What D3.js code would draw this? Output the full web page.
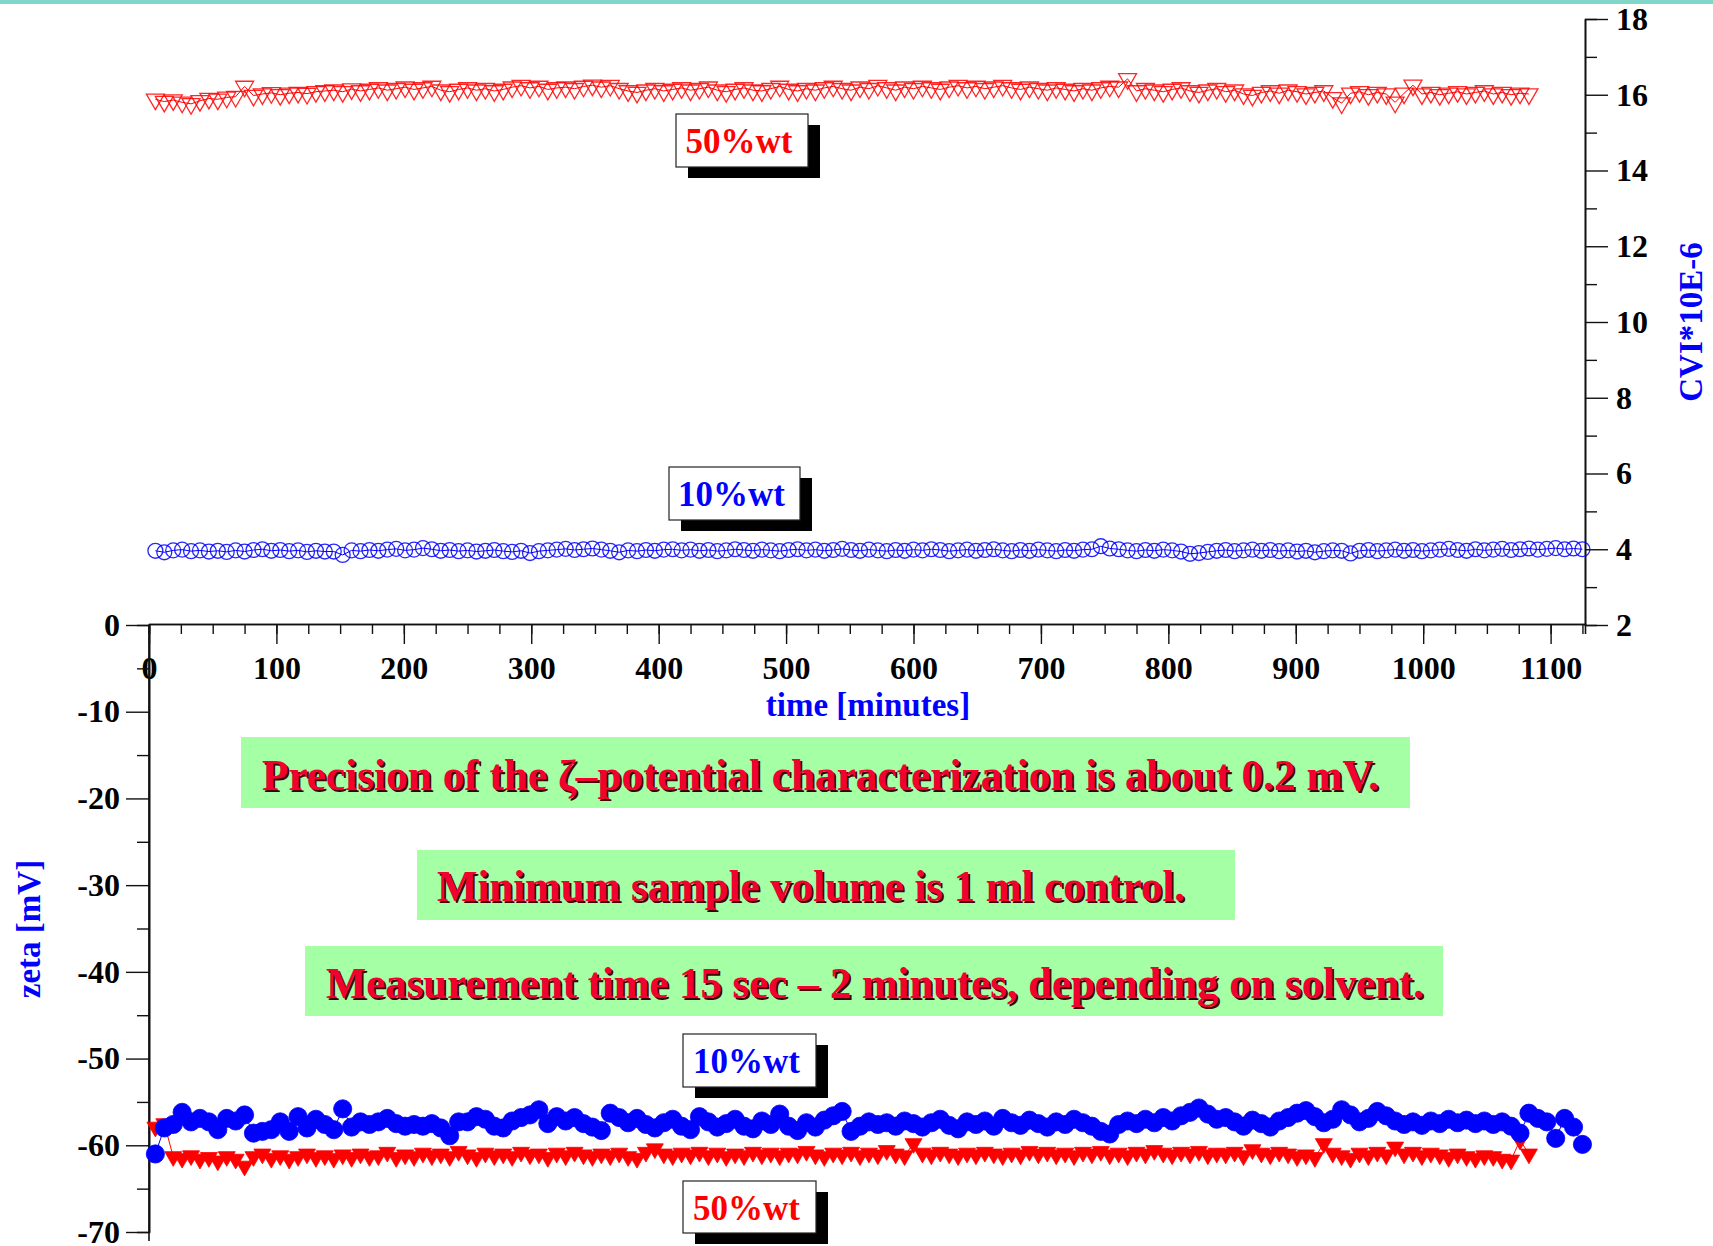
<!DOCTYPE html>
<html>
<head>
<meta charset="utf-8">
<script src="https://cdnjs.cloudflare.com/ajax/libs/d3/7.8.5/d3.min.js"></script>
<style>
	body { margin: 0; background: #fff; }
	svg text { font-family: "Liberation Serif", "Times New Roman", serif; font-weight: bold; }
</style>
</head>
<body>
<div id="main-container"></div>
<script>

// measurement times [minutes]
var times = [
	5,12,19,26,33,40,47,54,61,68,
	75,82,89,96,103,110,117,124,131,138,
	145,152,159,166,173,180,187,194,201,208,
	215,222,229,236,243,250,257,264,271,278,
	285,292,299,306,313,320,327,334,341,348,
	355,362,369,376,383,390,397,404,411,418,
	425,432,439,446,453,460,467,474,481,488,
	495,502,509,516,523,530,537,544,551,558,
	565,572,579,586,593,600,607,614,621,628,
	635,642,649,656,663,670,677,684,691,698,
	705,712,719,726,733,740,747,754,761,768,
	775,782,789,796,803,810,817,824,831,838,
	845,852,859,866,873,880,887,894,901,908,
	915,922,929,936,943,950,957,964,971,978,
	985,992,999,1006,1013,1020,1027,1034,1041,1048,
	1055,1062,1069,1076,1083,1090,1097,1104,1111,1118,
	1125
];

// CVI*10E-6, 50%wt (right axis)
var cvi50 = [
	15.88,15.82,15.86,15.80,15.76,15.84,15.90,15.88,15.93,15.95,
	16.22,15.98,16.02,16.05,16.00,16.04,16.06,16.03,16.08,16.10,
	16.12,16.08,16.15,16.10,16.14,16.18,16.12,16.16,16.20,16.14,
	16.18,16.22,16.12,16.08,16.14,16.18,16.12,16.16,16.10,16.14,
	16.20,16.24,16.18,16.22,16.14,16.18,16.20,16.16,16.22,16.25,
	16.20,16.24,16.16,16.10,16.06,16.12,16.16,16.10,16.14,16.18,
	16.12,16.16,16.20,16.12,16.08,16.14,16.18,16.12,16.10,16.16,
	16.22,16.14,16.10,16.16,16.12,16.18,16.22,16.16,16.12,16.20,
	16.16,16.24,16.18,16.12,16.20,16.16,16.22,16.18,16.14,16.20,
	16.24,16.18,16.22,16.16,16.20,16.24,16.18,16.14,16.20,16.16,
	16.12,16.18,16.14,16.10,16.16,16.12,16.18,16.22,16.20,16.42,
	16.10,16.16,16.12,16.08,16.14,16.18,16.10,16.06,16.12,16.16,
	16.08,16.12,16.02,15.98,16.06,16.10,16.04,16.12,16.08,16.02,
	16.06,16.10,15.92,15.78,16.04,16.08,16.00,16.06,16.02,15.80,
	16.04,16.25,16.02,16.06,16.00,16.04,16.08,16.02,16.06,16.10,
	16.02,16.06,16.00,16.04,16.02
];

// CVI*10E-6, 10%wt (right axis)
var cvi10 = [
	3.96,3.92,3.97,3.99,3.95,3.97,3.94,3.96,3.93,3.97,
	3.94,3.98,4.00,3.96,3.98,3.95,3.97,3.93,3.96,3.94,
	3.94,3.85,3.97,3.95,3.98,3.96,3.99,4.01,3.97,3.99,
	4.03,4.00,3.96,3.98,3.95,3.97,3.94,3.96,3.98,3.95,
	3.93,3.96,3.90,3.95,3.97,3.99,4.01,3.98,4.00,4.02,
	3.99,3.96,3.92,3.97,3.95,3.98,3.96,3.99,4.00,3.97,
	3.99,3.96,3.98,3.95,3.97,4.00,3.98,3.96,3.99,3.97,
	3.95,3.98,4.00,3.97,3.99,3.96,3.98,4.01,3.98,3.96,
	3.99,3.97,3.95,3.98,3.96,3.99,3.97,4.00,3.98,3.95,
	3.97,3.99,3.96,3.98,4.00,3.97,3.95,3.98,3.96,3.99,
	3.97,3.95,3.98,3.96,3.99,4.00,4.08,4.02,4.00,3.97,
	3.95,3.98,3.96,3.99,3.97,3.94,3.88,3.90,3.93,3.96,
	3.98,3.95,3.97,3.99,3.96,3.98,3.95,3.97,3.94,3.96,
	3.92,3.95,3.97,3.96,3.89,3.96,3.98,3.95,3.97,3.99,
	3.96,3.98,3.95,3.97,3.99,4.01,3.98,3.96,4.00,3.97,
	3.99,4.01,3.98,4.00,4.02,3.99,4.01,4.03,4.00,4.02,
	4.00
];

// zeta [mV], 10%wt (left axis)
var zeta10 = [
	-61.0,-58.0,-57.6,-56.2,-57.3,-56.9,-57.3,-58.2,-56.9,-57.2,
	-56.5,-58.6,-58.4,-58.2,-57.3,-58.4,-56.7,-58.0,-57.0,-57.6,
	-58.2,-55.8,-57.9,-57.3,-57.6,-57.3,-56.9,-57.5,-57.8,-57.6,
	-57.8,-57.5,-58.0,-58.9,-57.3,-57.3,-56.7,-57.0,-57.8,-58.0,
	-57.2,-56.8,-56.5,-55.9,-57.5,-56.7,-57.2,-56.8,-57.5,-57.9,
	-58.3,-56.3,-56.8,-57.4,-56.9,-57.6,-58.0,-57.4,-57.0,-57.8,
	-58.2,-56.7,-57.3,-57.9,-57.5,-57.0,-57.8,-58.1,-57.2,-57.6,
	-56.4,-57.8,-58.3,-57.4,-57.9,-57.1,-56.6,-56.1,-58.4,-57.8,
	-57.3,-57.6,-57.4,-57.8,-57.2,-57.5,-57.9,-57.4,-57.0,-57.7,
	-58.1,-57.3,-57.6,-57.2,-57.8,-56.9,-57.4,-57.7,-57.1,-57.5,
	-57.9,-57.3,-57.6,-57.0,-57.4,-57.8,-58.4,-58.7,-57.6,-57.2,
	-57.5,-57.0,-57.4,-56.8,-57.2,-56.6,-56.2,-55.7,-56.4,-57.0,
	-56.8,-57.3,-57.8,-57.1,-57.5,-57.9,-57.2,-56.8,-56.3,-56.0,
	-56.7,-57.4,-57.0,-55.9,-56.5,-57.3,-56.9,-56.1,-56.6,-57.2,
	-57.6,-57.3,-57.7,-57.2,-57.5,-57.0,-57.4,-57.1,-57.5,-57.2,
	-57.6,-57.3,-57.8,-58.6,-56.3,-56.9,-57.3,-59.2,-56.9,-57.9,
	-59.9
];

// zeta [mV], 50%wt (left axis)
var zeta50 = [
	-57.9,-57.5,-61.3,-61.5,-61.2,-61.6,-61.4,-61.8,-61.3,-61.6,
	-62.4,-61.3,-61.0,-61.5,-61.2,-61.6,-61.3,-61.0,-61.4,-61.2,
	-61.5,-61.1,-61.4,-61.0,-61.3,-61.2,-60.8,-61.4,-61.1,-61.3,
	-60.9,-61.2,-61.0,-61.3,-60.7,-61.1,-61.4,-60.9,-61.2,-61.0,
	-61.3,-60.8,-61.1,-61.0,-61.4,-60.9,-61.2,-60.8,-61.1,-61.3,
	-61.0,-61.2,-60.9,-61.3,-61.5,-60.8,-60.4,-61.0,-61.2,-60.9,
	-61.1,-60.8,-61.2,-60.9,-61.3,-61.0,-61.2,-60.8,-61.1,-60.9,
	-61.2,-60.9,-61.0,-60.7,-61.1,-61.3,-60.9,-61.1,-60.8,-61.2,
	-60.9,-61.1,-60.6,-61.0,-61.2,-59.8,-60.9,-61.1,-60.8,-61.0,
	-61.2,-60.9,-61.1,-60.8,-61.0,-61.2,-60.9,-61.1,-60.7,-61.0,
	-60.8,-61.1,-60.9,-61.2,-60.8,-61.0,-60.7,-61.1,-60.9,-61.2,
	-60.8,-61.0,-60.6,-60.9,-61.1,-60.8,-61.0,-60.7,-61.1,-60.9,
	-61.0,-60.8,-61.2,-60.5,-60.9,-61.1,-60.8,-61.0,-61.3,-61.1,
	-61.4,-59.8,-60.9,-61.2,-61.5,-60.9,-61.2,-60.8,-61.1,-60.2,
	-61.0,-60.8,-61.2,-60.9,-61.1,-61.4,-61.0,-61.3,-61.5,-61.2,
	-61.3,-61.6,-61.7,-59.4,-61.0
];

var xTicks = [0,100,200,300,400,500,600,700,800,900,1000,1100];
var zetaTicks = [0,-10,-20,-30,-40,-50,-60,-70];
var cviTicks = [2,4,6,8,10,12,14,16,18];

var notes = [
	"Precision of the \u03b6\u2013potential characterization is about 0.2 mV.",
	"Minimum sample volume is 1 ml control.",
	"Measurement time 15 sec \u2013 2 minutes, depending on solvent."
];


var W = 1713, H = 1246;
var svg = d3.select("#main-container").append("svg")
	.attr("width", W).attr("height", H);

// teal strip at the top
svg.append("rect").attr("x", 0).attr("y", 0).attr("width", W).attr("height", 4).attr("fill", "#7fd6c9");

var x = d3.scaleLinear().domain([0, 1127]).range([149, 1585]);
var yCvi = d3.scaleLinear().domain([2, 18]).range([625, 19]);
var yZeta = d3.scaleLinear().domain([-70, 0]).range([1232, 625]);

// plain hyphen for negatives, like the original
var plainFmt = function(d) { return String(d); };



//*******************************************************************************************
//
//		AXES
//
//*******************************************************************************************

function styleAxis(g) {
	g.selectAll("path.domain").attr("stroke", "#111").attr("stroke-width", 1.6);
	g.selectAll(".tick line").attr("stroke", "#111").attr("stroke-width", 1.4);
	g.selectAll(".tick text").attr("fill", "#000").style("font-size", "32px").style("font-weight", "bold")
		.style("font-family", "'Liberation Serif', 'Times New Roman', serif");
}

// x axis (ticks pointing down)
var xMinor = d3.range(0, 1126, 25);
svg.append("g").attr("transform", "translate(0,624)")
	.call(d3.axisBottom(x).tickValues(xMinor).tickSize(10).tickFormat(""))
	.call(styleAxis);
svg.append("g").attr("transform", "translate(0,624)")
	.call(d3.axisBottom(x).tickValues(xTicks).tickSize(20).tickSizeOuter(0).tickPadding(12).tickFormat(plainFmt))
	.call(styleAxis);

// left axis: zeta
svg.append("line").attr("x1", 149).attr("x2", 149).attr("y1", 625).attr("y2", 1241)
	.attr("stroke", "#111").attr("stroke-width", 1.6);
svg.append("g").attr("transform", "translate(149,0)")
	.call(d3.axisLeft(yZeta).tickValues(d3.range(-65, 0, 10)).tickSize(12).tickFormat(""))
	.call(styleAxis);
svg.append("g").attr("transform", "translate(149,0)")
	.call(d3.axisLeft(yZeta).tickValues(zetaTicks).tickSize(23).tickSizeOuter(0).tickPadding(6).tickFormat(plainFmt))
	.call(styleAxis);

// right axis: CVI
svg.append("g").attr("transform", "translate(1585,0)")
	.call(d3.axisRight(yCvi).tickValues(d3.range(3, 18, 2)).tickSize(12).tickFormat(""))
	.call(styleAxis);
svg.append("g").attr("transform", "translate(1585,0)")
	.call(d3.axisRight(yCvi).tickValues(cviTicks).tickSize(23).tickSizeOuter(0).tickPadding(8).tickFormat(plainFmt))
	.call(styleAxis);

// axis titles
svg.append("text").attr("x", 868).attr("y", 716).attr("text-anchor", "middle")
	.attr("fill", "#0000ff").style("font-size", "33px").text("time [minutes]");
svg.append("text").attr("transform", "translate(40,929) rotate(-90)").attr("text-anchor", "middle")
	.attr("fill", "#0000ff").style("font-size", "33px").text("zeta [mV]");
svg.append("text").attr("transform", "translate(1702,322) rotate(-90)").attr("text-anchor", "middle")
	.attr("fill", "#0000ff").style("font-size", "33px").text("CVI*10E-6");



//*******************************************************************************************
//
//		SERIES
//
//*******************************************************************************************

function drawSeries(values, yScale, color, symbolType, size, filled, flip) {
	var pts = values.map(function(v, i) { return [times[i], v]; });
	var line = d3.line().x(function(d) { return x(d[0]); }).y(function(d) { return yScale(d[1]); });
	var g = svg.append("g");
	g.append("path").attr("d", line(pts)).attr("fill", "none").attr("stroke", color).attr("stroke-width", 1);
	var sym = d3.symbol().type(symbolType).size(size);
	g.selectAll("path.pt").data(pts).enter().append("path")
		.attr("class", "pt")
		.attr("d", sym)
		.attr("transform", function(d) {
			return "translate(" + x(d[0]) + "," + yScale(d[1]) + ")" + (flip ? " rotate(180)" : "");
		})
		.attr("fill", filled ? color : "none")
		.attr("stroke", color)
		.attr("stroke-width", filled ? 0.8 : 1.3)
		.attr("stroke-opacity", filled ? 1 : 0.85);
}

drawSeries(cvi50, yCvi, "#ff0000", d3.symbolTriangle, 140, false, true);
drawSeries(cvi10, yCvi, "#0000ff", d3.symbolCircle, 175, false, false);
drawSeries(zeta50, yZeta, "#ff0000", d3.symbolTriangle, 125, true, true);
drawSeries(zeta10, yZeta, "#0000ff", d3.symbolCircle, 260, true, false);



//*******************************************************************************************
//
//		LABELS
//
//*******************************************************************************************

function labelBox(x0, y0, w, h, txt, color) {
	var g = svg.append("g");
	g.append("rect").attr("x", x0 + 12).attr("y", y0 + 11).attr("width", w).attr("height", h).attr("fill", "#000");
	g.append("rect").attr("x", x0).attr("y", y0).attr("width", w).attr("height", h)
		.attr("fill", "#fff").attr("stroke", "#222").attr("stroke-width", 1.2);
	g.append("text").attr("x", x0 + w / 2 - 3).attr("y", y0 + 39).attr("text-anchor", "middle")
		.attr("fill", color).style("font-size", "35px").text(txt);
}

labelBox(676, 114, 132, 53, "50%wt", "#ff0000");
labelBox(669, 467, 131, 53, "10%wt", "#0000ff");
labelBox(683, 1034, 133, 53, "10%wt", "#0000ff");
labelBox(683, 1181, 133, 52, "50%wt", "#ff0000");

var noteBoxes = [
	{ x: 241, y: 737, w: 1169, h: 71, tx: 262, tw: 1117, base: 790 },
	{ x: 417, y: 850, w: 818, h: 70, tx: 437, tw: 748, base: 901 },
	{ x: 305, y: 946, w: 1138, h: 70, tx: 326, tw: 1098, base: 998 }
];

noteBoxes.forEach(function(b, i) {
	svg.append("rect").attr("x", b.x).attr("y", b.y).attr("width", b.w).attr("height", b.h).attr("fill", "#a5ffa5");
	svg.append("text").attr("x", b.tx + 2).attr("y", b.base + 2)
		.attr("textLength", b.tw).attr("lengthAdjust", "spacingAndGlyphs")
		.attr("fill", "#3a0008").style("font-size", "45px").text(notes[i]);
	svg.append("text").attr("x", b.tx).attr("y", b.base)
		.attr("textLength", b.tw).attr("lengthAdjust", "spacingAndGlyphs")
		.attr("fill", "#f2002e").style("font-size", "45px").text(notes[i]);
});

</script>
</body>
</html>
